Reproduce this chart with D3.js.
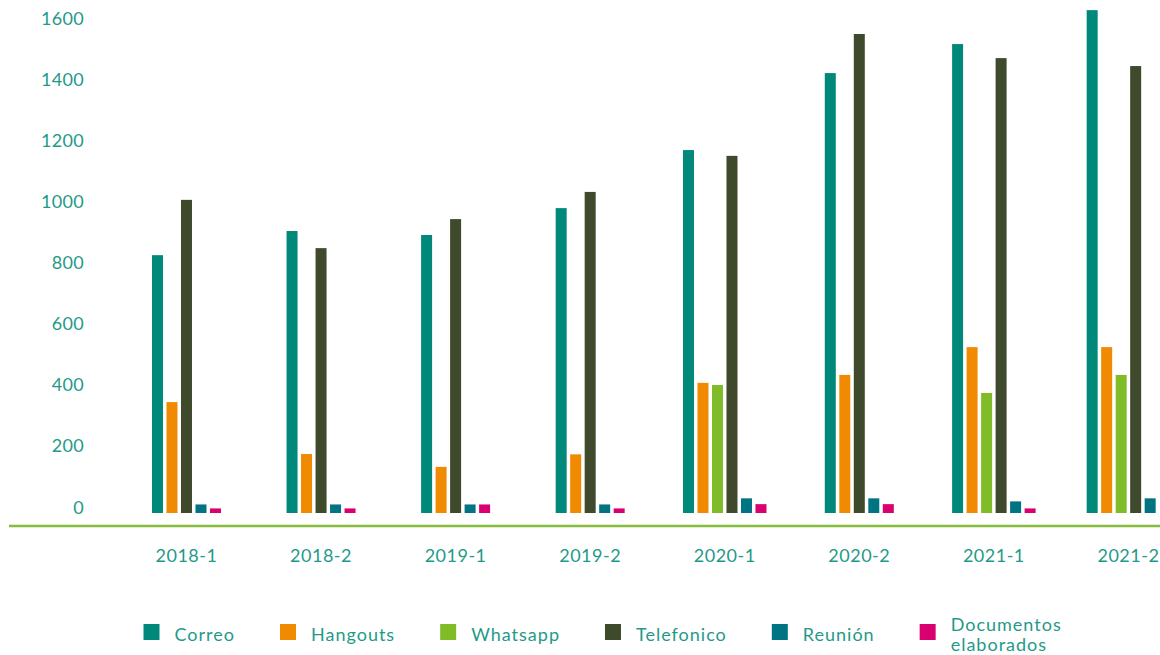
<!DOCTYPE html>
<html>
<head>
<meta charset="utf-8">
<script src="https://cdn.jsdelivr.net/npm/d3@7"></script>
<style>
  html, body { margin: 0; padding: 0; background: #ffffff; }
  svg { display: block; font-family: Lato, "Open Sans", sans-serif; }
</style>
</head>
<body>
<svg id="chart" width="1160" height="655"></svg>
<script>
// ---- data ----
const categories = ["2018-1", "2018-2", "2019-1", "2019-2", "2020-1", "2020-2", "2021-1", "2021-2"];
const seriesNames = ["Correo", "Hangouts", "Whatsapp", "Telefonico", "Reunión", "Documentos elaborados"];
const correo     = [844, 923, 910, 998, 1188, 1440, 1535, 1646];
const hangouts   = [363, 193, 151, 192, 426, 452, 543, 543];
const whatsapp   = [null, null, null, null, 419, null, 393, 452];
const telefonico = [1025, 867, 962, 1051, 1169, 1568, 1489, 1463];
const reunion    = [28, 28, 28, 28, 48, 48, 38, 48];
const documentos = [15, 15, 28, 15, 29, 29, 15, 0];
const yTicks = [0, 200, 400, 600, 800, 1000, 1200, 1400, 1600];
const colors = ["#00897a", "#f08a00", "#80bc28", "#3f4a2c", "#007482", "#d9006f"];

const seriesValues = [correo, hangouts, whatsapp, telefonico, reunion, documentos];
const textColor = "#1f9a88";

const svg = d3.select("#chart");

// ---- scales ----
const x = d3.scaleBand().domain(categories).range([119.2, 1195.7]).padding(0);
const y = d3.scaleLinear().domain([0, 1600]).range([513, 24.2]);
const color = d3.scaleOrdinal().domain(seriesNames).range(colors);

// ---- y axis labels (no line) ----
const yAxis = d3.axisLeft(y).tickValues(yTicks).tickSize(0).tickPadding(0).tickFormat(d3.format("d"));
const yg = svg.append("g").attr("transform", "translate(84,0)").call(yAxis);
yg.select(".domain").remove();
yg.selectAll("text")
  .attr("dy", 0)
  .attr("fill", textColor)
  .style("font-size", "18px")
  .style("font-family", "Lato, 'Open Sans', sans-serif")
  .style("letter-spacing", "0.3px");

// ---- bars ----
const subStep = 14.5, subPad = 3.5 / 14.5;
const groups = svg.append("g").selectAll("g")
  .data(categories.map((c, i) => ({
    cat: c,
    items: seriesNames.map((s, k) => ({ s, v: seriesValues[k][i] })).filter(d => d.v !== null)
  })))
  .join("g");

groups.each(function (g) {
  const n = g.items.length;
  const L = subStep * (n - subPad);
  const c = x(g.cat) + x.bandwidth() / 2;
  const xs = d3.scaleBand().domain(g.items.map(d => d.s))
    .range([c - L / 2, c + L / 2]).paddingInner(subPad).paddingOuter(0);
  d3.select(this).selectAll("rect").data(g.items).join("rect")
    .attr("x", d => xs(d.s))
    .attr("width", xs.bandwidth())
    .attr("y", d => y(d.v))
    .attr("height", d => y(0) - y(d.v))
    .attr("fill", d => color(d.s));
});

// ---- x axis line & labels ----
svg.append("line")
  .attr("x1", 9).attr("x2", 1160)
  .attr("y1", 526).attr("y2", 526)
  .attr("stroke", "#86bd3c").attr("stroke-width", 2.5);

const xAxis = d3.axisBottom(x).tickSize(0).tickPadding(0);
const xg = svg.append("g").attr("transform", "translate(0,562)").call(xAxis);
xg.select(".domain").remove();
xg.selectAll("text")
  .attr("dy", 0)
  .attr("fill", textColor)
  .style("font-size", "18px")
  .style("font-family", "Lato, 'Open Sans', sans-serif")
  .style("letter-spacing", "0.5px");

// ---- legend ----
const legend = svg.append("g").attr("transform", "translate(143.5,0)");
let lx = 0;
seriesNames.forEach((name) => {
  const item = legend.append("g").attr("transform", `translate(${lx},0)`);
  item.append("rect").attr("x", 0).attr("y", 624).attr("width", 16).attr("height", 16).attr("fill", color(name));
  const t = item.append("text")
    .attr("x", 31)
    .attr("fill", textColor)
    .style("font-size", "18px")
    .style("letter-spacing", "1px");
  const parts = name === "Documentos elaborados" ? ["Documentos", "elaborados"] : [name];
  if (parts.length === 1) {
    t.attr("y", 641).text(parts[0]);
  } else {
    parts.forEach((p, i) => t.append("tspan").attr("x", 31).attr("y", 631 + i * 20).text(p));
  }
  const w = t.node().getBBox().width;
  lx += 31 + w + 45;
});
</script>
</body>
</html>
